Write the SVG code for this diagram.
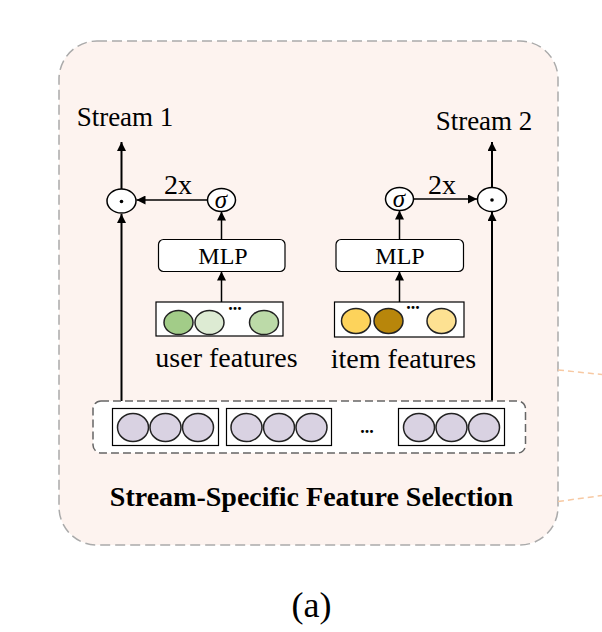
<svg xmlns="http://www.w3.org/2000/svg" width="602" height="632" viewBox="0 0 602 632">
  <style>
    .t { font-family: "Liberation Serif", "Times New Roman", serif; fill: #000; }
    .lbl { font-size: 27px; }
    .feat { font-size: 28px; }
    .mlp { font-size: 24px; }
    .ln { stroke: #000; stroke-width: 1.5; fill: none; }
    .main { stroke: #000; stroke-width: 2; fill: none; }
    .op { fill: #fff; stroke: #000; stroke-width: 1.5; }
    .box { fill: #fff; stroke: #000; stroke-width: 1.2; }
    .cir { stroke: #222; stroke-width: 1.5; }
    .lav { fill: #d9d2e2; }
  </style>
  <defs>
    <marker id="ah" viewBox="0 0 10 10" refX="10" refY="5" markerWidth="9" markerHeight="9" markerUnits="userSpaceOnUse" orient="auto">
      <path d="M0,0 L10,5 L0,10 z" fill="#000"/>
    </marker>
  </defs>
  <rect width="602" height="632" fill="#fff"/>

  <!-- outer frame -->
  <g id="frame">
    <rect x="59" y="41" width="499" height="504" rx="38" ry="38" fill="#fdf3ef" stroke="#aaaaaa" stroke-width="1.5" stroke-dasharray="10 5"/>
    <line x1="558" y1="370" x2="602" y2="374.5" stroke="#f7c9a3" stroke-width="1.5" stroke-dasharray="6 4"/>
    <line x1="558" y1="501.5" x2="602" y2="495.5" stroke="#f7c9a3" stroke-width="1.5" stroke-dasharray="6 4"/>
  </g>

  <!-- connectors -->
  <g id="connectors">
    <line class="main" x1="121.5" y1="401" x2="121.5" y2="214" marker-end="url(#ah)"/>
    <line class="main" x1="121.5" y1="189" x2="121.5" y2="142" marker-end="url(#ah)"/>
    <line class="ln" x1="207.5" y1="200" x2="136.5" y2="200" marker-end="url(#ah)"/>
    <line class="ln" x1="221.5" y1="239" x2="221.5" y2="211.5" marker-end="url(#ah)"/>
    <line class="ln" x1="221.5" y1="302" x2="221.5" y2="271.5" marker-end="url(#ah)"/>

    <line class="main" x1="492" y1="401" x2="492" y2="212" marker-end="url(#ah)"/>
    <line class="main" x1="492" y1="187" x2="492" y2="142" marker-end="url(#ah)"/>
    <line class="ln" x1="414" y1="199" x2="477" y2="199" marker-end="url(#ah)"/>
    <line class="ln" x1="399.5" y1="239" x2="399.5" y2="210.5" marker-end="url(#ah)"/>
    <line class="ln" x1="399.5" y1="302" x2="399.5" y2="271.5" marker-end="url(#ah)"/>
    <text class="t" x="178" y="194" font-size="28" text-anchor="middle">2x</text>
    <text class="t" x="442" y="194" font-size="28" text-anchor="middle">2x</text>
  </g>

  <!-- stream labels -->
  <g id="stream1">
    <text class="t lbl" x="125" y="126" text-anchor="middle">Stream 1</text>
  </g>
  <g id="stream2">
    <text class="t lbl" x="484" y="130" text-anchor="middle">Stream 2</text>
  </g>

  <!-- element-wise product nodes -->
  <g id="dot1">
    <ellipse class="op" cx="121.5" cy="201" rx="14.5" ry="12"/>
    <circle cx="121.5" cy="201.5" r="1.8" fill="#000"/>
  </g>
  <g id="dot2">
    <ellipse class="op" cx="492" cy="199.5" rx="14.5" ry="12"/>
    <circle cx="492" cy="200" r="1.8" fill="#000"/>
  </g>

  <!-- sigma nodes -->
  <g id="sigma1">
    <ellipse class="op" cx="221.5" cy="200" rx="14" ry="11.5"/>
    <text class="t" x="221" y="207.5" font-size="25" font-style="italic" text-anchor="middle">σ</text>
  </g>
  <g id="sigma2">
    <ellipse class="op" cx="399.5" cy="199" rx="14" ry="11.5"/>
    <text class="t" x="399" y="206.5" font-size="25" font-style="italic" text-anchor="middle">σ</text>
  </g>

  <!-- MLP nodes -->
  <g id="mlp1">
    <rect x="158.5" y="239.5" width="126.5" height="32" rx="5" ry="5" fill="#fff" stroke="#000" stroke-width="1.2"/>
    <text class="t mlp" x="223" y="264" text-anchor="middle">MLP</text>
  </g>
  <g id="mlp2">
    <rect x="336" y="239.5" width="127.5" height="32" rx="5" ry="5" fill="#fff" stroke="#000" stroke-width="1.2"/>
    <text class="t mlp" x="400" y="264" text-anchor="middle">MLP</text>
  </g>

  <!-- user features -->
  <g id="user-features">
    <rect class="box" x="156" y="302" width="127" height="34"/>
    <ellipse class="cir" cx="178.5" cy="322.5" rx="14.5" ry="12" fill="#a2cc88"/>
    <ellipse class="cir" cx="209.5" cy="322.5" rx="14.5" ry="12" fill="#ddebd3"/>
    <ellipse class="cir" cx="264" cy="322.5" rx="14.5" ry="12" fill="#bcdaa8"/>
    <text class="t" x="235" y="310" font-size="18" font-weight="bold" text-anchor="middle">...</text>
    <text class="t feat" x="226.5" y="367" text-anchor="middle">user features</text>
  </g>

  <!-- item features -->
  <g id="item-features">
    <rect class="box" x="334.5" y="302" width="129.5" height="35"/>
    <ellipse class="cir" cx="356" cy="321" rx="14.5" ry="12.5" fill="#fdd35b"/>
    <ellipse class="cir" cx="388.5" cy="321" rx="14.5" ry="12.5" fill="#b8860b"/>
    <ellipse class="cir" cx="441.5" cy="321" rx="14.5" ry="12.5" fill="#fde192"/>
    <text class="t" x="413" y="309" font-size="18" font-weight="bold" text-anchor="middle">...</text>
    <text class="t feat" x="403.5" y="368" text-anchor="middle">item features</text>
  </g>

  <!-- feature embeddings -->
  <g id="embeddings">
    <rect x="93" y="401" width="432.5" height="52" rx="8" ry="8" fill="#fff" stroke="#666" stroke-width="1.5" stroke-dasharray="8 4"/>
    <rect class="box" x="112.5" y="408.5" width="106" height="37"/>
    <ellipse class="cir lav" cx="133" cy="427.5" rx="15.5" ry="14"/>
    <ellipse class="cir lav" cx="165.5" cy="427.5" rx="15.5" ry="14"/>
    <ellipse class="cir lav" cx="198" cy="427.5" rx="15.5" ry="14"/>
    <rect class="box" x="226.5" y="408.5" width="105" height="37"/>
    <ellipse class="cir lav" cx="246.5" cy="427.5" rx="15.5" ry="14"/>
    <ellipse class="cir lav" cx="279" cy="427.5" rx="15.5" ry="14"/>
    <ellipse class="cir lav" cx="311.5" cy="427.5" rx="15.5" ry="14"/>
    <text class="t" x="367" y="433" font-size="18" font-weight="bold" text-anchor="middle">...</text>
    <rect class="box" x="398.5" y="408.5" width="106" height="37"/>
    <ellipse class="cir lav" cx="419" cy="427.5" rx="15.5" ry="14"/>
    <ellipse class="cir lav" cx="451.5" cy="427.5" rx="15.5" ry="14"/>
    <ellipse class="cir lav" cx="484" cy="427.5" rx="15.5" ry="14"/>
  </g>

  <g id="title">
    <text class="t" x="311.5" y="506" font-size="28" font-weight="bold" text-anchor="middle">Stream-Specific Feature Selection</text>
  </g>
  <g id="caption">
    <text class="t" x="311.5" y="617" font-size="36" text-anchor="middle">(a)</text>
  </g>
</svg>
